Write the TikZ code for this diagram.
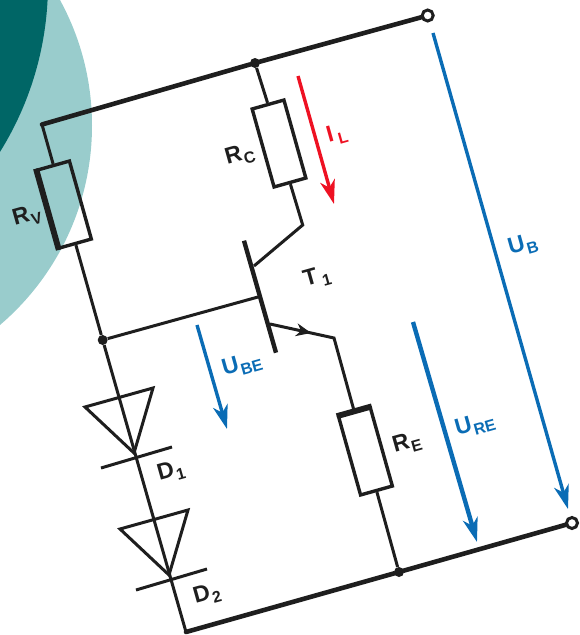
\documentclass[tikz,border=0pt]{standalone}
\usepackage{fontspec}
\setmainfont{Liberation Sans}
\usetikzlibrary{arrows.meta}
\definecolor{paleteal}{HTML}{99CCCC}
\definecolor{darkteal}{HTML}{006666}
\definecolor{ublue}{HTML}{0A6CB5}
\definecolor{ired}{HTML}{EE1122}
\definecolor{ink}{HTML}{1E1E1E}
\tikzset{
  wire/.style={draw=ink,line width=3pt,line join=miter},
  rail/.style={draw=ink,line width=4.6pt,line cap=round,line join=miter},
  resbox/.style={draw=ink,line width=3.4pt,fill=none,minimum width=81pt,minimum height=33pt,inner sep=0pt,rotate=-74.3},
  terminal/.style={circle,draw=ink,line width=3pt,fill=white,minimum size=11pt,inner sep=0pt},
  junction/.style={circle,fill=ink,minimum size=10pt,inner sep=0pt},
  lab/.style={text=ink,rotate=15.7,inner sep=0pt,font=\bfseries},
  ulab/.style={lab,text=ublue},
  iarrow/.style={draw=ired,line width=3.4pt,-{Stealth[length=24pt,width=15pt,inset=7pt]}},
  uarrow/.style={draw=ublue,line width=3.4pt,-{Stealth[length=24pt,width=15pt,inset=7pt]}}
}
\newcommand{\ssub}[2]{\fontsize{23}{23}\selectfont #1\kern1pt\fontsize{16}{16}\selectfont\raisebox{-5pt}{#2}}
\begin{document}
\begin{tikzpicture}[x=1pt,y=-1pt]
\path[use as bounding box,clip] (0,0) rectangle (579,635);

% background discs
\fill[paleteal] (-170,125.6) circle (262);
\fill[darkteal] (-271,-16.5) circle (319);

% points of the outer loop
\node[terminal] (topT) at (427.7,15.5) {};
\node[terminal] (botT) at (572,523) {};
\node[junction] (topJ) at (255,63) {};
\node[junction] (baseJ) at (102.7,340) {};
\node[junction] (botJ) at (399,572) {};
\coordinate (cornerA) at (42,124.5);
\coordinate (cornerB) at (186,632);

% resistors
\node[resbox] (Rv) at (64.5,204.5) {};
\node[resbox] (Rc) at (279,143.5) {};
\node[resbox] (Re) at (365.5,451.5) {};
\draw[draw=ink,line width=5pt] (Rv.south west) -- (Rv.south east);
\draw[draw=ink,line width=5pt] (Re.north west) -- (Re.south west);

% transistor
\coordinate (barA) at (244,240.7);
\coordinate (barB) at (276,352.7);
\coordinate (baseP) at (258,297);
\coordinate (collP) at (254,266);
\coordinate (collK) at (302.7,225);
\coordinate (emitP) at (270,324);
\coordinate (emitM) at (311,333);
\coordinate (emitK) at (334,338);

% rails
\draw[rail] (topT) -- (topJ) -- (cornerA);
\draw[rail] (botT) -- (botJ) -- (cornerB);
\draw[wire] (cornerA) -- (Rv.west);
\draw[wire] (Rv.east) -- (baseJ);
\draw[wire] (baseJ) -- (cornerB);
\draw[wire] (topJ) -- (Rc.west);
\draw[wire] (Rc.east) -- (collK) -- (collP);
\draw[wire] (baseJ) -- (baseP);
\draw[line width=4.4pt,draw=ink] (barA) -- (barB);
\draw[wire] (emitP) -- (emitK) -- (Re.west);
\draw[draw=ink,line width=1pt,-{Stealth[length=15pt,width=13pt]}] (emitP) -- (emitM);
\draw[wire] (Re.east) -- (botJ);

% diodes
\foreach \x/\y in {134/453,169/575} {
  \draw[wire] (\x,\y) +(-49,-46) -- +(19,-65) -- +(0,0) -- cycle;
  \draw[wire] (\x,\y) +(-33,15) -- +(38,-6);
}

% arrows
\coordinate (iA) at (298,76);
\coordinate (iB) at (334,204);
\coordinate (ubA) at (433,33);
\coordinate (ubB) at (568,509);
\coordinate (ureA) at (413,322);
\coordinate (ureB) at (477,542);
\coordinate (ubeA) at (197,325);
\coordinate (ubeB) at (227,429);
\draw[iarrow] (iA) -- (iB);
\draw[uarrow] (ubA) -- (ubB);
\draw[uarrow,line width=4.4pt] (ureA) -- (ureB);
\draw[uarrow] (ubeA) -- (ubeB);

% labels
\node[lab] (RvL) at (27,216) {\ssub{R}{V}};
\node[lab] (RcL) at (240,155) {\ssub{R}{C}};
\node[lab] (ReL) at (407,443) {\ssub{R}{E}};
\node[lab] (T1L) at (317,278) {\ssub{T}{\,1}};
\node[lab] (D1L) at (171,472) {\ssub{D}{1}};
\node[lab] (D2L) at (207,595) {\ssub{D}{2}};
\node[lab,text=ired] (IlL) at (337,135) {\ssub{I}{\,L}};
\node[ulab] (UbL) at (523,245) {\ssub{U}{B}};
\node[ulab] (UbeL) at (242,365) {\ssub{U}{BE}};
\node[ulab] (UreL) at (475,425) {\ssub{U}{RE}};
\end{tikzpicture}
\end{document}
